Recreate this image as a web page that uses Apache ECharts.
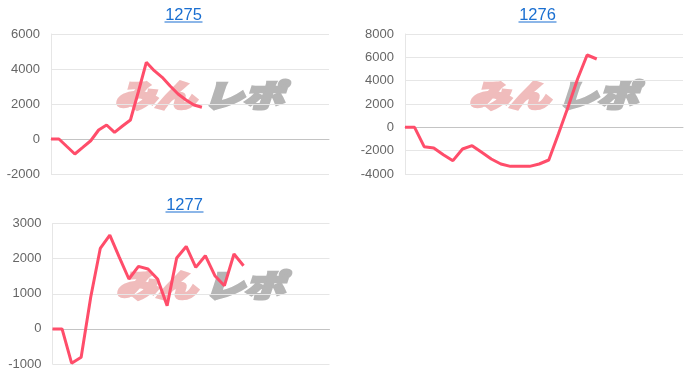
<!DOCTYPE html>
<html><head><meta charset="utf-8">
<script src="https://cdn.jsdelivr.net/npm/echarts@6/dist/echarts.min.js"></script>
<style>html,body{margin:0;padding:0;background:#fff}#c{width:700px;height:380px}</style>
</head><body><div id="c"></div>
<script>
const titles = ['1275', '1276', '1277'];
const catCounts = [36, 30, 30];
const values1275 = [0, 0, -430, -857, -480, -100, 514, 800, 380, 743, 1086, 2700, 4383, 3903, 3526, 3029, 2571, 2229, 1943, 1811];
const values1276 = [0, 0, -1657, -1771, -2343, -2857, -1857, -1571, -2143, -2714, -3143, -3343, -3343, -3343, -3143, -2800, -571, 1714, 4143, 6200, 5857];
const values1277 = [0, 0, -977, -807, 898, 2290, 2670, 2034, 1420, 1778, 1704, 1420, 662, 2017, 2347, 1750, 2083, 1514, 1230, 2130, 1798];
const yMins = [-2000, -4000, -1000];
const yMaxs = [6000, 8000, 3000];
const yIntervals = [2000, 2000, 1000];
const allValues = [values1275, values1276, values1277];

const grids = [
  {left: 51, top: 34, width: 278, height: 140},
  {left: 405, top: 34, width: 278, height: 140},
  {left: 52.5, top: 223.5, width: 277, height: 140.5}
];
const titlePos = [[183.5, 15], [537.5, 15], [184.5, 205]];
const markPos = [[115, 80], [469, 80], [116, 270]];

const lineColor = '#ff4d6a';
const font = '"Liberation Sans", Arial, sans-serif';
const markFont = 'italic 900 31px "Noto Sans CJK JP", sans-serif';

const xAxis = [], yAxis = [], series = [], graphic = [];
for (let i = 0; i < 3; i++) {
  const cats = Array.from({length: catCounts[i]}, (_, k) => String(k + 1));
  xAxis.push({
    type: 'category', gridIndex: i, data: cats, boundaryGap: false,
    axisLine: {show: true, onZero: true, lineStyle: {color: '#c4c4c4', width: 1}},
    axisTick: {show: false}, axisLabel: {show: false}, splitLine: {show: false}
  });
  yAxis.push({
    type: 'value', gridIndex: i, min: yMins[i], max: yMaxs[i], interval: yIntervals[i],
    axisLine: {show: true, lineStyle: {color: '#e6e6e6'}},
    axisTick: {show: false},
    axisLabel: {color: '#666', fontSize: 13, fontFamily: font, margin: 11, formatter: v => String(v)},
    splitLine: {show: true, lineStyle: {color: '#e6e6e6', width: 1}}
  });
  series.push({
    type: 'line', xAxisIndex: i, yAxisIndex: i, data: allValues[i],
    showSymbol: false, symbol: 'none', z: 5,
    lineStyle: {color: lineColor, width: 3}, itemStyle: {color: lineColor}
  });
  const [tx, ty] = titlePos[i];
  graphic.push({
    type: 'text', x: tx, y: ty, z: 10,
    style: {text: titles[i], fill: '#1a6fd1', font: '16.5px ' + font, textAlign: 'center', textVerticalAlign: 'middle'}
  });
  graphic.push({
    type: 'line', z: 10,
    shape: {x1: tx - 19, y1: ty + 7, x2: tx + 19, y2: ty + 7},
    style: {stroke: '#1a6fd1', lineWidth: 1.2}
  });
  const [mx, my] = markPos[i];
  graphic.push({
    type: 'group', x: mx, y: my, z: 1,
    children: [
      {type: 'text', x: 0, y: 0, scaleX: 1.3, style: {text: 'みん', fill: '#f0bcbc', stroke: '#f0bcbc', lineWidth: 3, font: markFont, textVerticalAlign: 'top'}},
      {type: 'text', x: 88, y: 0, scaleX: 1.3, style: {text: 'レポ', fill: '#b5b5b5', stroke: '#b5b5b5', lineWidth: 3, font: markFont, textVerticalAlign: 'top'}}
    ]
  });
}

const chart = echarts.init(document.getElementById('c'), null, {renderer: 'canvas'});
chart.setOption({
  animation: false,
  backgroundColor: '#fff',
  grid: grids.map(g => Object.assign({containLabel: false}, g)),
  xAxis, yAxis, series, graphic
});
</script></body></html>
